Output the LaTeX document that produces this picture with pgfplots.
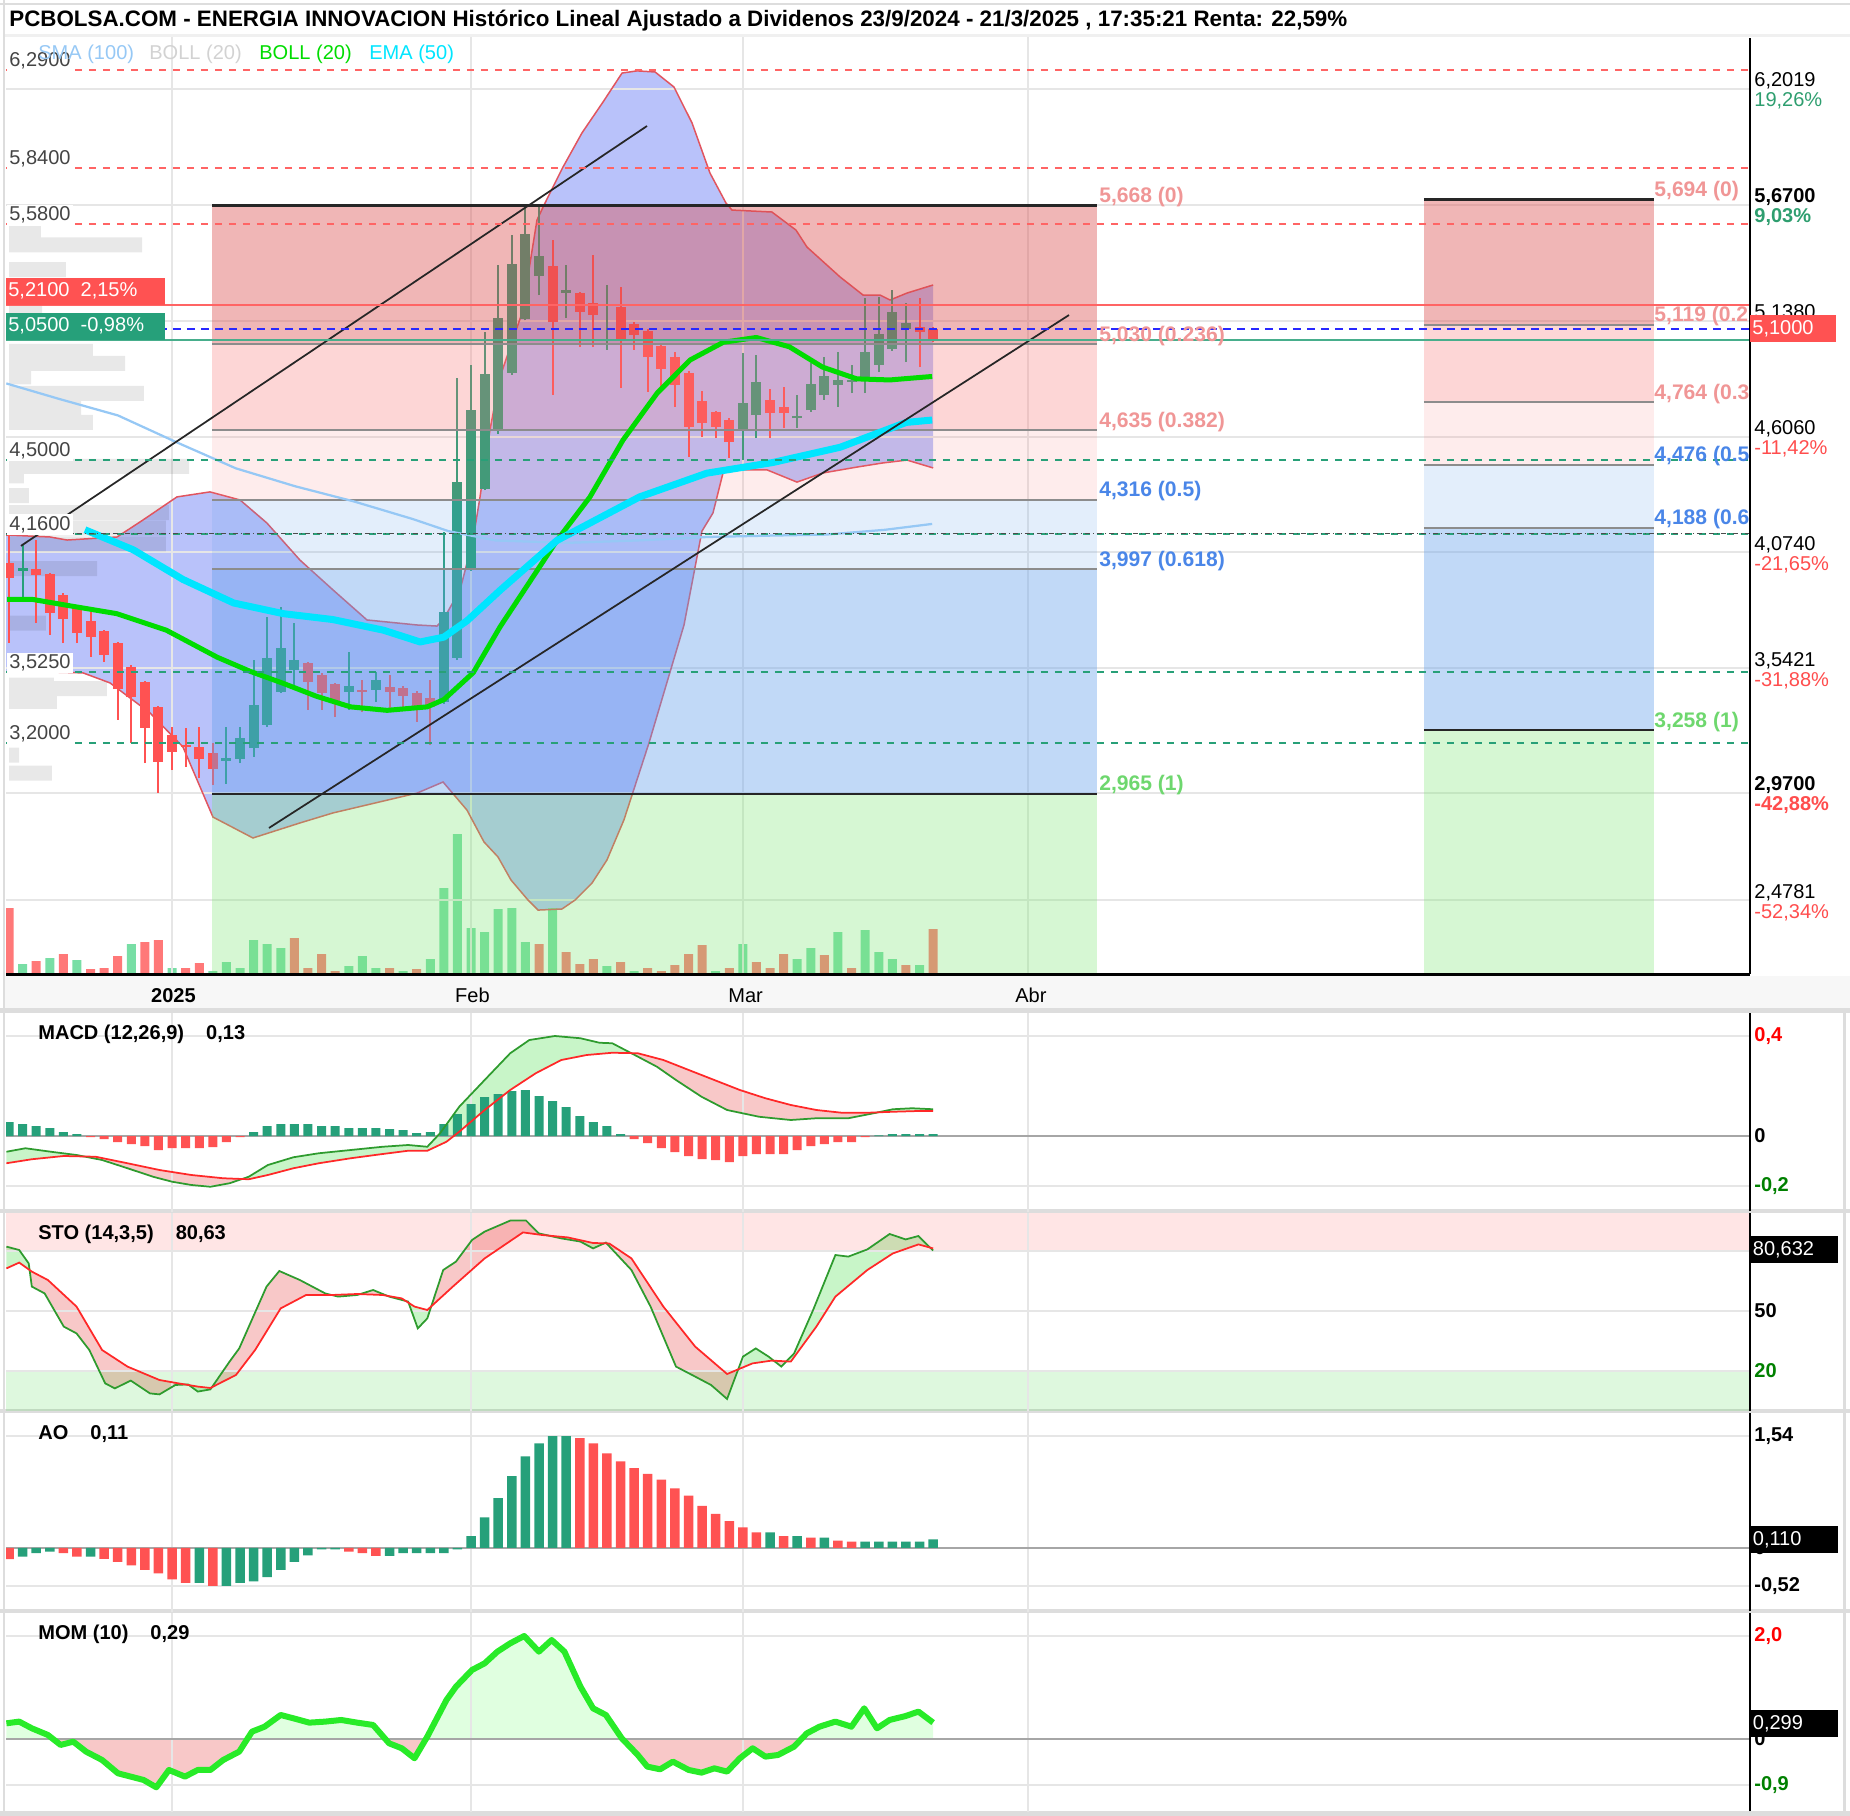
\documentclass[border=0pt]{standalone}
\usepackage{graphicx}
\usepackage{pgfplots}
\pgfplotsset{compat=1.18}
\usepgfplotslibrary{fillbetween}
\usepackage{pgfplotstable}
\usepackage{fontspec}
\setmainfont{Liberation Sans}
\newcommand\fs[1]{\fontsize{#1}{#1}\selectfont}

\definecolor{cg}{RGB}{38,160,122}
\definecolor{cr}{RGB}{255,82,82}
\definecolor{vg}{RGB}{120,222,165}
\definecolor{vr}{RGB}{255,120,120}
\definecolor{gridc}{RGB}{230,230,230}
\definecolor{bfill}{RGB}{100,120,245}
\definecolor{bline}{RGB}{225,85,95}
\definecolor{smac}{RGB}{150,200,245}
\definecolor{emac}{RGB}{0,229,255}
\definecolor{bmid}{RGB}{0,220,0}
\definecolor{fr1}{RGB}{220,80,80}
\definecolor{fr2}{RGB}{250,120,120}
\definecolor{fb}{RGB}{100,160,235}
\definecolor{fgr}{RGB}{120,230,110}
\definecolor{dred}{RGB}{255,100,100}
\definecolor{dgreen}{RGB}{40,160,120}
\definecolor{dblue}{RGB}{40,40,255}
\definecolor{pg}{RGB}{46,158,111}
\definecolor{pr}{RGB}{255,77,77}
\definecolor{labgray}{RGB}{68,68,68}
\definecolor{fpink}{RGB}{240,150,150}
\definecolor{fblue}{RGB}{74,134,232}
\definecolor{fgreen}{RGB}{110,215,110}
\definecolor{sep}{RGB}{221,221,221}
\definecolor{lg}{RGB}{46,155,46}
\definecolor{lr}{RGB}{255,40,40}
\definecolor{fillg}{RGB}{200,245,200}
\definecolor{fillr}{RGB}{248,200,200}
\definecolor{momc}{RGB}{40,235,40}
\definecolor{legray}{RGB}{210,210,210}
\definecolor{darkgreen}{RGB}{0,128,0}

% ---------------- data ----------------
\pgfplotstableread{
i lo hi wl wh
1 3.989 4.003 3.847 4.108
16 3.116 3.130 3.011 3.273
17 3.126 3.222 3.107 3.273
18 3.176 3.374 3.135 3.580
19 3.282 3.589 3.273 3.778
20 3.433 3.635 3.429 3.824
21 3.534 3.580 3.456 3.750
25 3.433 3.461 3.351 3.617
27 3.443 3.488 3.387 3.525
32 3.387 3.801 3.380 4.168
33 3.589 4.397 3.580 4.875
34 3.993 4.728 3.990 4.935
35 4.365 4.893 4.360 5.086
36 4.636 5.150 4.620 5.394
37 4.898 5.398 4.890 5.532
38 5.146 5.536 5.140 5.669
39 5.343 5.435 5.256 5.669
41 5.265 5.279 5.150 5.394
44 5.206 5.215 5.004 5.302
54 4.636 4.760 4.498 4.990
55 4.705 4.857 4.600 4.981
58 4.690 4.700 4.645 4.797
59 4.728 4.847 4.720 4.944
60 4.797 4.884 4.774 4.971
61 4.843 4.866 4.742 4.994
62 4.857 4.866 4.806 4.935
63 4.870 4.994 4.806 5.242
64 4.935 5.077 4.903 5.247
65 5.008 5.178 5.000 5.279
66 5.100 5.128 4.948 5.219
}\gc
\pgfplotstableread{
i lo hi wl wh
0 3.957 4.026 3.658 4.154
2 3.970 3.998 3.750 4.131
3 3.796 3.975 3.695 3.980
4 3.768 3.879 3.658 3.890
5 3.704 3.819 3.658 3.830
6 3.686 3.759 3.594 3.801
7 3.603 3.713 3.571 3.720
8 3.447 3.658 3.305 3.665
9 3.410 3.548 3.199 3.555
10 3.268 3.479 3.107 3.485
11 3.112 3.364 2.970 3.370
12 3.158 3.236 3.075 3.273
13 3.181 3.190 3.089 3.268
14 3.126 3.181 3.038 3.273
15 3.080 3.153 3.006 3.199
22 3.479 3.566 3.351 3.572
23 3.429 3.511 3.351 3.520
24 3.387 3.470 3.319 3.475
26 3.433 3.443 3.342 3.488
28 3.433 3.456 3.351 3.511
29 3.415 3.452 3.351 3.460
30 3.364 3.429 3.296 3.440
31 3.364 3.406 3.190 3.488
40 5.132 5.389 4.797 5.509
42 5.178 5.265 5.017 5.272
43 5.164 5.219 5.017 5.440
45 5.049 5.201 4.829 5.293
46 5.072 5.123 5.004 5.132
47 4.971 5.091 4.811 5.100
48 4.916 5.022 4.829 5.030
49 4.843 4.971 4.742 4.994
50 4.650 4.898 4.512 4.905
51 4.668 4.769 4.604 4.815
52 4.650 4.719 4.600 4.725
53 4.581 4.682 4.508 4.690
56 4.714 4.774 4.600 4.824
57 4.714 4.742 4.645 4.834
67 5.086 5.109 4.925 5.242
68 5.050 5.100 5.040 5.110
}\rc
\pgfplotstableread{
i v
1 10
3 16
5 14
9 30
12 6
15 3
16 12
17 6
18 34
19 30
20 26
25 8
26 18
27 6
29 3
31 15
32 86
33 140
34 46
35 42
36 65
37 66
38 32
40 66
44 8
46 3
52 3
54 30
58 15
59 26
61 42
63 44
64 22
65 15
67 9
}\volg
\pgfplotstableread{
i v
0 66
2 13
4 20
6 5
7 6
8 18
10 32
11 34
13 6
14 11
21 36
22 6
23 20
24 3
28 6
30 5
39 30
41 22
42 10
43 15
45 12
47 6
48 3
49 9
50 20
51 29
53 6
55 12
56 6
57 20
60 19
62 6
66 9
68 45
}\volr
\pgfplotstableread{
w p
2.35 5.538
9.79 5.486
4.19 5.373
2.43 5.178
6.18 4.997
8.54 4.942
1.62 4.880
9.93 4.804
5.30 4.735
6.18 4.671
13.25 4.469
1.10 4.425
1.47 4.335
11.77 4.257
11.55 4.186
11.55 4.113
6.48 4.000
2.72 3.750
3.31 3.465
7.21 3.449
3.53 3.390
0.74 3.144
3.16 3.061
}\profile
\pgfplotstableread{
i p
-0.22 4.154
3.02 4.145
4.27 4.131
7.95 4.145
9.86 4.223
12.36 4.329
14.79 4.352
17.0 4.315
18.98 4.209
21.41 4.039
23.84 3.902
26.34 3.764
30.02 3.741
31.49 3.736
31.94 3.764
33.19 3.902
34.14 4.131
34.66 4.329
35.39 4.636
36.13 4.880
37.75 5.173
38.85 5.600
39.44 5.678
40.77 5.844
42.16 6.000
43.71 6.142
45.11 6.275
46.21 6.285
47.54 6.280
48.93 6.211
50.26 6.046
51.58 5.816
52.76 5.678
53.2 5.646
56.14 5.637
57.91 5.554
58.72 5.476
61.15 5.339
62.84 5.256
64.09 5.256
64.83 5.233
66.08 5.265
68.0 5.302
}\bollup
\pgfplotstableread{
i p
-0.22 3.525
3.02 3.525
5.45 3.521
7.43 3.475
10.38 3.337
12.8 3.181
15.01 2.859
17.95 2.763
21.41 2.832
23.84 2.878
30.02 2.969
31.94 3.020
33.7 2.891
34.95 2.745
35.98 2.676
36.94 2.570
38.19 2.478
38.93 2.432
40.69 2.437
41.65 2.478
42.9 2.556
44.0 2.662
45.25 2.846
47.09 3.199
49.67 3.741
50.99 4.172
51.8 4.255
52.54 4.439
53.27 4.453
55.78 4.453
57.98 4.397
59.9 4.439
62.4 4.466
64.31 4.485
66.08 4.498
68.0 4.462
}\bolllo
\pgfplotstableread{
i p
-0.14 3.858
1.77 3.858
4.29 3.831
7.93 3.793
11.58 3.717
15.32 3.593
17.75 3.528
20.18 3.473
22.61 3.414
25.13 3.365
27.82 3.349
30.77 3.365
31.99 3.398
34.16 3.522
36.15 3.734
40.32 4.129
42.75 4.329
45.18 4.590
47.7 4.806
50.13 4.958
52.56 5.039
54.99 5.061
57.43 5.018
59.86 4.925
62.38 4.871
64.81 4.866
67.93 4.882
}\bmidt
\pgfplotstableread{
i p
5.59 4.178
9.15 4.086
12.8 3.950
16.53 3.842
20.18 3.793
23.82 3.766
27.56 3.717
30.25 3.663
31.99 3.685
33.72 3.761
36.15 3.901
40.32 4.129
46.4 4.329
51.35 4.438
56.21 4.487
61.16 4.557
66.02 4.671
67.93 4.682
}\ema
\pgfplotstableread{
i p
-0.2 4.850
3.68 4.779
8.02 4.703
12.36 4.579
16.70 4.460
21.05 4.378
25.39 4.308
29.73 4.227
32.33 4.172
35.81 4.129
41.02 4.118
46.23 4.129
51.44 4.145
55.78 4.151
60.12 4.156
64.46 4.178
67.93 4.205
}\sma
\pgfplotstableread{
i v
-0.19 -0.063
1.21 -0.049
3.09 -0.063
4.97 -0.076
6.85 -0.096
8.72 -0.129
10.6 -0.163
12.01 -0.183
13.42 -0.196
14.82 -0.203
16.23 -0.189
17.64 -0.163
19.05 -0.116
20.93 -0.085
22.8 -0.069
25.15 -0.056
27.5 -0.043
29.37 -0.036
30.78 -0.043
31.72 0.011
33.13 0.117
35.0 0.224
36.88 0.331
38.29 0.384
40.17 0.400
42.05 0.391
43.45 0.373
44.39 0.371
45.8 0.331
47.68 0.277
49.08 0.224
50.96 0.157
52.84 0.104
55.19 0.077
57.53 0.064
59.41 0.071
61.76 0.071
63.63 0.091
65.04 0.107
66.45 0.111
68.0 0.107
}\macd
\pgfplotstableread{
i v
-0.19 -0.109
1.68 -0.093
4.03 -0.080
6.38 -0.083
8.72 -0.109
11.07 -0.136
13.42 -0.156
15.76 -0.169
17.64 -0.173
19.05 -0.156
20.93 -0.129
22.8 -0.109
25.15 -0.089
27.5 -0.072
29.37 -0.059
30.78 -0.059
32.19 -0.023
33.13 0.017
35.0 0.104
36.88 0.184
38.76 0.251
40.64 0.304
42.51 0.324
44.39 0.333
46.27 0.331
48.15 0.304
50.02 0.264
51.9 0.224
53.78 0.184
55.66 0.151
57.53 0.124
59.41 0.104
61.29 0.093
63.16 0.093
65.04 0.097
66.92 0.100
68.0 0.100
}\signal
\pgfplotstableread{
i v
0 0.056
1 0.048
2 0.040
3 0.032
4 0.016
5 0.008
18 0.016
19 0.040
20 0.048
21 0.048
22 0.048
23 0.040
24 0.040
25 0.032
26 0.032
27 0.032
28 0.028
29 0.024
30 0.012
31 0.016
32 0.048
33 0.088
34 0.128
35 0.156
36 0.168
37 0.180
38 0.184
39 0.160
40 0.140
41 0.116
42 0.080
43 0.056
44 0.040
45 0.008
64 0.003
65 0.008
66 0.008
67 0.008
68 0.008
}\mhg
\pgfplotstableread{
i v
6 -0.004
7 -0.012
8 -0.024
9 -0.032
10 -0.040
11 -0.056
12 -0.048
13 -0.048
14 -0.048
15 -0.044
16 -0.024
17 -0.004
46 -0.012
47 -0.028
48 -0.048
49 -0.064
50 -0.080
51 -0.092
52 -0.096
53 -0.104
54 -0.080
55 -0.072
56 -0.072
57 -0.072
58 -0.056
59 -0.040
60 -0.032
61 -0.024
62 -0.024
63 -0.004
}\mhr
\pgfplotstableread{
i v
-0.19 82.2
0.75 80.5
1.45 73.8
1.68 62.2
2.62 58.8
4.03 42.2
4.97 38.8
5.91 30.5
7.08 13.8
7.79 11.3
8.96 15.2
10.37 8.8
11.07 8.3
12.24 13.0
13.18 13.3
13.89 9.7
14.82 10.8
16.23 24.7
16.94 31.3
18.95 62.2
19.89 70.0
21.4 65.5
23.27 58.8
24.21 57.2
25.62 58.0
26.79 60.5
27.97 57.2
29.37 54.7
30.08 41.3
30.78 46.3
31.95 70.5
32.89 74.7
34.07 85.5
35.0 89.7
36.88 95.2
38.05 95.2
38.99 88.8
40.64 86.3
42.05 84.7
42.98 81.3
43.92 84.2
45.8 70.5
47.21 52.2
49.08 22.2
50.49 17.2
51.66 13.0
52.84 6.0
54.01 27.2
54.95 31.3
55.89 27.2
56.83 22.2
57.77 28.8
59.17 50.5
60.81 78.0
61.76 77.2
63.16 80.8
64.8 88.5
65.98 85.8
66.92 87.5
68.0 80.2
}\stok
\pgfplotstableread{
i v
-0.19 71.3
0.75 74.2
1.68 69.7
2.86 65.5
4.97 52.2
6.85 30.5
8.72 22.2
11.07 15.5
12.48 13.8
13.89 12.2
14.82 11.5
16.7 18.0
18.11 30.5
19.99 51.3
21.86 58.0
23.74 58.0
25.62 58.5
27.5 58.0
28.9 56.3
29.84 52.2
30.78 50.5
32.66 62.2
35.0 76.3
37.82 89.3
39.23 88.0
41.11 86.8
42.98 84.0
44.16 83.8
45.8 76.3
48.15 52.2
50.49 32.2
52.84 18.5
54.71 23.8
56.12 25.2
57.53 24.7
59.41 42.2
60.81 57.2
63.16 70.5
65.04 78.8
66.92 83.3
68.0 81.3
}\stod
\pgfplotstableread{
i v
1 -0.120
2 -0.070
3 -0.050
6 -0.120
14 -0.480
16 -0.520
17 -0.480
18 -0.460
19 -0.400
20 -0.300
21 -0.190
22 -0.100
23 -0.020
24 -0.020
28 -0.110
29 -0.070
30 -0.070
31 -0.070
32 -0.070
33 -0.020
34 0.165
35 0.420
36 0.685
37 0.990
38 1.260
39 1.440
40 1.540
41 1.540
56 0.216
58 0.165
60 0.142
63 0.087
64 0.087
65 0.087
66 0.087
67 0.087
68 0.119
}\aog
\pgfplotstableread{
i v
0 -0.152
4 -0.070
5 -0.120
7 -0.150
8 -0.190
9 -0.240
10 -0.300
11 -0.350
12 -0.430
13 -0.480
15 -0.520
25 -0.050
26 -0.070
27 -0.110
42 1.510
43 1.440
44 1.300
45 1.190
46 1.100
47 1.020
48 0.940
49 0.820
50 0.720
51 0.580
52 0.470
53 0.370
54 0.285
55 0.216
57 0.165
59 0.142
61 0.101
62 0.087
}\aor
\pgfplotstableread{
i v
-0.19 0.305
0.75 0.338
1.68 0.208
2.86 0.079
3.8 -0.115
4.73 -0.051
5.67 -0.245
6.85 -0.407
8.02 -0.666
8.96 -0.730
9.9 -0.795
10.84 -0.938
11.77 -0.601
12.95 -0.730
13.89 -0.601
14.82 -0.601
15.76 -0.407
16.94 -0.245
17.88 0.143
18.81 0.240
19.99 0.467
20.93 0.402
22.1 0.318
23.27 0.338
24.45 0.370
25.62 0.318
26.79 0.273
27.97 -0.083
28.9 -0.180
29.84 -0.374
30.78 0.046
32.19 0.758
32.89 1.017
34.07 1.341
35.0 1.470
35.94 1.697
36.88 1.858
37.91 2.001
38.99 1.697
39.93 1.923
40.87 1.697
42.05 1.017
42.98 0.596
43.92 0.467
45.09 0.014
46.27 -0.310
46.97 -0.536
47.91 -0.588
48.85 -0.439
50.02 -0.601
50.96 -0.653
51.9 -0.569
52.84 -0.633
53.78 -0.374
54.72 -0.180
55.66 -0.342
56.59 -0.310
57.77 -0.148
58.71 0.111
59.64 0.240
60.81 0.338
61.99 0.240
62.93 0.596
63.87 0.208
64.8 0.370
65.98 0.447
66.92 0.532
68.0 0.318
}\mom

\pgfplotsset{
  panel/.style={anchor=north west, scale only axis, width=348.8mm,
    xmin=-0.2208, xmax=128.11, hide axis, clip mode=individual},
}
\tikzset{
 rnum/.style={anchor=base west, inner sep=0pt, font=\fs{11.4pt}, xshift=0.8mm, yshift=0.4mm},
 rpct/.style={anchor=base west, inner sep=0pt, font=\fs{11.4pt}, xshift=0.8mm, yshift=-3.6mm},
 llab/.style={anchor=base west, fill=white, inner sep=0.4mm, text=labgray, font=\fs{11.4pt}, xshift=0.2mm, yshift=0.7mm},
 fibl/.style={anchor=base west, inner sep=0pt, font=\fs{12pt}\bfseries, yshift=0.6mm},
 plab/.style={anchor=west, inner sep=0pt, font=\fs{11.4pt}\bfseries, xshift=0.8mm},
 pbox/.style={anchor=west, fill=black, text=white, inner xsep=0.5mm, inner ysep=0pt, minimum height=5.4mm, text width=16.6mm, align=left, font=\fs{11.4pt}},
 ptitle/.style={anchor=base west, inner sep=0pt, font=\fs{11.4pt}\bfseries, xshift=6.4mm, yshift=-5.2mm},
 leg/.style={anchor=base west, inner sep=0pt, font=\fs{11.4pt}, yshift=-4.4mm},
 datel/.style={anchor=base, inner sep=0pt, font=\fs{11.4pt}, yshift=-5.6mm},
}

\begin{document}
\begin{tikzpicture}
\path (0,0) rectangle (370mm,-363.2mm);
\begin{scope}[x=0.2mm,y=-0.2mm]
  \fill[sep] (0,3) rectangle (1850,5);
  \fill[sep] (3,0) rectangle (5,1816);
  \fill[black!6] (5,34) rectangle (1850,37);
  \fill[black!3] (5,976) rectangle (1850,1008);
  \fill[sep] (0,1008) rectangle (1850,1013);
  \fill[sep] (0,1209) rectangle (1850,1213);
  \fill[sep] (0,1409) rectangle (1850,1413);
  \fill[sep] (0,1609) rectangle (1850,1613);
  \fill[sep] (0,1811) rectangle (1850,1816);
  \fill[sep] (1843,1013) rectangle (1846,1816);
\end{scope}
\node[anchor=base west, inner sep=0pt] at (1.8mm,-5.4mm)
  {\resizebox{267.6mm}{!}{\fs{11.4pt}\bfseries PCBOLSA.COM - ENERGIA INNOVACION Histórico Lineal Ajustado a Dividenos 23/9/2024 - 21/3/2025 , 17:35:21 Renta: 22,59\%}};

% ---------- volume ----------
\begin{axis}[panel, at={(1.2mm,-7.6mm)}, height=187.2mm, ymin=0, ymax=936]
\addplot[ybar, bar width=1.8mm, bar shift=0pt, fill=vg, draw=none] table[x=i,y=v] \volg;
\addplot[ybar, bar width=1.8mm, bar shift=0pt, fill=vr, draw=none] table[x=i,y=v] \volr;
\end{axis}

% ---------- price ----------
\begin{axis}[panel, at={(1.2mm,-7.6mm)}, height=187.2mm, ymin=2.1385, ymax=6.436]
\pgfplotsinvokeforeach{6.2019,5.67,5.138,4.606,4.074,3.5421,2.97,2.4781}{
  \addplot[gridc, line width=0.4mm] coordinates {(-0.3,#1) (128.5,#1)};}
\pgfplotsinvokeforeach{12,34,54,75}{
  \addplot[gridc, line width=0.4mm] coordinates {(#1,2.1) (#1,6.45)};}
\addplot[xbar, bar width=3mm, bar shift=0pt, fill=black, fill opacity=0.09, draw=none] table[x=w,y=p] \profile;
\addplot[name path=bu, bline, line width=0.3mm] table[x=i,y=p] \bollup;
\addplot[name path=bl, bline, line width=0.3mm] table[x=i,y=p] \bolllo;
\addplot[fill=bfill, fill opacity=0.45] fill between[of=bu and bl];
% candles
\addplot[draw=none, error bars/.cd, y dir=plus, y explicit, error mark=none,
  error bar style={draw=cg, line width=0.4mm}] table[x=i, y=wl, y error expr=\thisrow{wh}-\thisrow{wl}] \gc;
\addplot[draw=none, error bars/.cd, y dir=plus, y explicit, error mark=none,
  error bar style={draw=cg, line width=2mm}] table[x=i, y=lo, y error expr=\thisrow{hi}-\thisrow{lo}] \gc;
\addplot[draw=none, error bars/.cd, y dir=plus, y explicit, error mark=none,
  error bar style={draw=cr, line width=0.4mm}] table[x=i, y=wl, y error expr=\thisrow{wh}-\thisrow{wl}] \rc;
\addplot[draw=none, error bars/.cd, y dir=plus, y explicit, error mark=none,
  error bar style={draw=cr, line width=2mm}] table[x=i, y=lo, y error expr=\thisrow{hi}-\thisrow{lo}] \rc;
% fibonacci left block
\addplot[draw=none, fill=fr1, fill opacity=0.42] coordinates {(14.94,5.668) (80.06,5.668) (80.06,5.030) (14.94,5.030)};
\addplot[draw=none, fill=fr2, fill opacity=0.30] coordinates {(14.94,5.030) (80.06,5.030) (80.06,4.635) (14.94,4.635)};
\addplot[draw=none, fill=fr2, fill opacity=0.14] coordinates {(14.94,4.635) (80.06,4.635) (80.06,4.316) (14.94,4.316)};
\addplot[draw=none, fill=fb, fill opacity=0.18] coordinates {(14.94,4.316) (80.06,4.316) (80.06,3.997) (14.94,3.997)};
\addplot[draw=none, fill=fb, fill opacity=0.40] coordinates {(14.94,3.997) (80.06,3.997) (80.06,2.965) (14.94,2.965)};
\addplot[draw=none, fill=fgr, fill opacity=0.30] coordinates {(14.94,2.965) (80.06,2.965) (80.06,2.1) (14.94,2.1)};
% fibonacci right block
\addplot[draw=none, fill=fr1, fill opacity=0.42] coordinates {(104.12,5.694) (121.05,5.694) (121.05,5.119) (104.12,5.119)};
\addplot[draw=none, fill=fr2, fill opacity=0.30] coordinates {(104.12,5.119) (121.05,5.119) (121.05,4.764) (104.12,4.764)};
\addplot[draw=none, fill=fr2, fill opacity=0.14] coordinates {(104.12,4.764) (121.05,4.764) (121.05,4.476) (104.12,4.476)};
\addplot[draw=none, fill=fb, fill opacity=0.18] coordinates {(104.12,4.476) (121.05,4.476) (121.05,4.188) (104.12,4.188)};
\addplot[draw=none, fill=fb, fill opacity=0.40] coordinates {(104.12,4.188) (121.05,4.188) (121.05,3.258) (104.12,3.258)};
\addplot[draw=none, fill=fgr, fill opacity=0.30] coordinates {(104.12,3.258) (121.05,3.258) (121.05,2.1) (104.12,2.1)};
\pgfplotsinvokeforeach{5.030,4.635,4.316,3.997}{
  \addplot[black!45, line width=0.4mm] coordinates {(14.94,#1) (80.06,#1)};}
\pgfplotsinvokeforeach{5.668,2.965}{
  \addplot[black!85, line width=0.5mm] coordinates {(14.94,#1) (80.06,#1)};}
\pgfplotsinvokeforeach{5.119,4.764,4.476,4.188}{
  \addplot[black!45, line width=0.4mm] coordinates {(104.12,#1) (121.05,#1)};}
\pgfplotsinvokeforeach{5.694,3.258}{
  \addplot[black!85, line width=0.5mm] coordinates {(104.12,#1) (121.05,#1)};}
% moving averages
\addplot[smac, line width=0.45mm] table[x=i,y=p] \sma;
\addplot[bmid, line width=1mm, line join=round] table[x=i,y=p] \bmidt;
\addplot[emac, line width=1.4mm, line join=round] table[x=i,y=p] \ema;
% trend lines
\addplot[black!85, line width=0.35mm] coordinates {(0.88,4.104) (46.95,6.032)};
\addplot[black!85, line width=0.35mm] coordinates {(19.13,2.809) (78.0,5.164)};
% support / resistance
\pgfplotsinvokeforeach{6.29,5.84,5.58}{
  \addplot[dred, line width=0.4mm, dash pattern=on 1.4mm off 1.4mm] coordinates {(-0.3,#1) (128.5,#1)};}
\pgfplotsinvokeforeach{4.5,4.16,3.525,3.2}{
  \addplot[dgreen, line width=0.4mm, dash pattern=on 1.4mm off 1.4mm] coordinates {(-0.3,#1) (128.5,#1)};}
\addplot[black!70, line width=0.3mm, dash pattern=on 1mm off 0.6mm on 0.2mm off 0.6mm] coordinates {(-0.3,4.16) (128.5,4.16)};
\addplot[dblue, line width=0.4mm, dash pattern=on 1.6mm off 1.2mm] coordinates {(-0.3,5.10) (128.5,5.10)};
\addplot[dred, line width=0.4mm] coordinates {(-0.3,5.21) (128.5,5.21)};
\addplot[dgreen!85, line width=0.4mm] coordinates {(-0.3,5.05) (128.5,5.05)};
% borders
\draw[black, line width=0.45mm] (rel axis cs:1,0) -- (rel axis cs:1,1);
\draw[black, line width=0.6mm] (rel axis cs:0,0) -- (rel axis cs:1,0);
% left labels
\node[llab] at (axis cs:-0.2208,6.29) {6,2900};
\node[llab] at (axis cs:-0.2208,5.84) {5,8400};
\node[llab] at (axis cs:-0.2208,5.58) {5,5800};
\node[llab] at (axis cs:-0.2208,4.50) {4,5000};
\node[llab] at (axis cs:-0.2208,4.16) {4,1600};
\node[llab] at (axis cs:-0.2208,3.525) {3,5250};
\node[llab] at (axis cs:-0.2208,3.20) {3,2000};
\node[anchor=south west, fill=cr, text=white, inner xsep=0.4mm, inner ysep=0pt, minimum height=5.4mm, text width=31mm, align=left, font=\fs{11.4pt}] at (axis cs:-0.2208,5.21) {5,2100\hspace{2.2mm}2,15\%};
\node[anchor=south west, fill=cg, text=white, inner xsep=0.4mm, inner ysep=0pt, minimum height=5.4mm, text width=31mm, align=left, font=\fs{11.4pt}] at (axis cs:-0.2208,5.05) {5,0500\hspace{2.2mm}-0,98\%};
% legend
\node[leg, text=smac, xshift=6.4mm] at (rel axis cs:0,1) {SMA (100)};
\node[leg, text=legray, xshift=28.6mm] at (rel axis cs:0,1) {BOLL (20)};
\node[leg, text=bmid, xshift=50.6mm] at (rel axis cs:0,1) {BOLL (20)};
\node[leg, text=emac, xshift=72.6mm] at (rel axis cs:0,1) {EMA (50)};
% fib labels
\node[fibl, text=fpink, xshift=0.4mm] at (axis cs:80.06,5.668) {5,668 (0)};
\node[fibl, text=fpink, xshift=0.4mm] at (axis cs:80.06,5.030) {5,030 (0.236)};
\node[fibl, text=fpink, xshift=0.4mm] at (axis cs:80.06,4.635) {4,635 (0.382)};
\node[fibl, text=fblue, xshift=0.4mm] at (axis cs:80.06,4.316) {4,316 (0.5)};
\node[fibl, text=fblue, xshift=0.4mm] at (axis cs:80.06,3.997) {3,997 (0.618)};
\node[fibl, text=fgreen, xshift=0.4mm] at (axis cs:80.06,2.965) {2,965 (1)};
\node[fibl, text=fpink] at (axis cs:121.05,5.694) {5,694 (0)};
\node[fibl, text=fpink] at (axis cs:121.05,5.119) {5,119 (0.2};
\node[fibl, text=fpink] at (axis cs:121.05,4.764) {4,764 (0.3};
\node[fibl, text=fblue] at (axis cs:121.05,4.476) {4,476 (0.5};
\node[fibl, text=fblue] at (axis cs:121.05,4.188) {4,188 (0.6};
\node[fibl, text=fgreen] at (axis cs:121.05,3.258) {3,258 (1)};
% right axis labels
\node[rnum] at (axis cs:128.11,6.2019) {6,2019};
\node[rpct, text=pg] at (axis cs:128.11,6.2019) {19,26\%};
\node[rnum, font=\fs{11.4pt}\bfseries] at (axis cs:128.11,5.67) {5,6700};
\node[rpct, text=pg, font=\fs{11.4pt}\bfseries] at (axis cs:128.11,5.67) {9,03\%};
\node[rnum] at (axis cs:128.11,5.138) {5,1380};
\node[rnum] at (axis cs:128.11,4.606) {4,6060};
\node[rpct, text=pr] at (axis cs:128.11,4.606) {-11,42\%};
\node[rnum] at (axis cs:128.11,4.074) {4,0740};
\node[rpct, text=pr] at (axis cs:128.11,4.074) {-21,65\%};
\node[rnum] at (axis cs:128.11,3.5421) {3,5421};
\node[rpct, text=pr] at (axis cs:128.11,3.5421) {-31,88\%};
\node[rnum, font=\fs{11.4pt}\bfseries] at (axis cs:128.11,2.97) {2,9700};
\node[rpct, text=pr, font=\fs{11.4pt}\bfseries] at (axis cs:128.11,2.97) {-42,88\%};
\node[rnum] at (axis cs:128.11,2.4781) {2,4781};
\node[rpct, text=pr] at (axis cs:128.11,2.4781) {-52,34\%};
\node[anchor=west, fill=cr, text=white, inner xsep=0.4mm, inner ysep=0pt, minimum height=5.4mm, text width=16.4mm, align=left, font=\fs{11.4pt}] at (axis cs:128.11,5.10) {5,1000};
% dates
\node[datel, font=\fs{11.4pt}\bfseries] at (axis cs:12.1,2.1385) {2025};
\node[datel] at (axis cs:34.1,2.1385) {Feb};
\node[datel] at (axis cs:54.2,2.1385) {Mar};
\node[datel] at (axis cs:75.2,2.1385) {Abr};
\end{axis}

% ---------- MACD ----------
\begin{axis}[panel, at={(1.2mm,-202.6mm)}, height=39.6mm, ymin=-0.3, ymax=0.492]
\pgfplotsinvokeforeach{12,34,54,75}{\addplot[gridc, line width=0.4mm] coordinates {(#1,-0.31) (#1,0.5)};}
\pgfplotsinvokeforeach{0.4,-0.2}{\addplot[gridc, line width=0.4mm] coordinates {(-0.3,#1) (128.5,#1)};}
\addplot[black!35, line width=0.4mm] coordinates {(-0.3,0) (128.5,0)};
\addplot[name path=mc, draw=none] table[x=i,y=v] \macd;
\addplot[name path=sg, draw=none] table[x=i,y=v] \signal;
\addplot fill between[of=mc and sg, split, every even segment/.style={fill=fillg}, every odd segment/.style={fill=fillr}];
\addplot[ybar, bar width=1.8mm, bar shift=0pt, fill=cg, draw=none] table[x=i,y=v] \mhg;
\addplot[ybar, bar width=1.8mm, bar shift=0pt, fill=cr, draw=none] table[x=i,y=v] \mhr;
\addplot[lg, line width=0.35mm] table[x=i,y=v] \macd;
\addplot[lr, line width=0.35mm] table[x=i,y=v] \signal;
\draw[black, line width=0.45mm] (rel axis cs:1,0) -- (rel axis cs:1,1);
\node[ptitle] at (rel axis cs:0,1) {MACD (12,26,9)\hspace{4.4mm}0,13};
\node[plab, text=red] at (axis cs:128.11,0.4) {0,4};
\node[plab] at (axis cs:128.11,0) {0};
\node[plab, text=darkgreen] at (axis cs:128.11,-0.2) {-0,2};
\end{axis}

% ---------- STO ----------
\begin{axis}[panel, at={(1.2mm,-242.6mm)}, height=39.6mm, ymin=0, ymax=99]
\addplot[draw=none, fill=red, fill opacity=0.1] coordinates {(-0.3,80) (128.5,80) (128.5,99.5) (-0.3,99.5)};
\addplot[draw=none, fill=green!80!black, fill opacity=0.13] coordinates {(-0.3,0) (128.5,0) (128.5,20) (-0.3,20)};
\pgfplotsinvokeforeach{12,34,54,75}{\addplot[gridc, line width=0.4mm] coordinates {(#1,-0.5) (#1,99.5)};}
\pgfplotsinvokeforeach{80,50,20}{\addplot[gridc, line width=0.4mm] coordinates {(-0.3,#1) (128.5,#1)};}
\addplot[name path=sk, draw=none] table[x=i,y=v] \stok;
\addplot[name path=sd, draw=none] table[x=i,y=v] \stod;
\addplot fill between[of=sk and sd, split, every even segment/.style={fill=fillg}, every odd segment/.style={fill=fillr}];
\addplot[lg, line width=0.35mm] table[x=i,y=v] \stok;
\addplot[lr, line width=0.35mm] table[x=i,y=v] \stod;
\draw[black, line width=0.45mm] (rel axis cs:1,0) -- (rel axis cs:1,1);
\node[ptitle] at (rel axis cs:0,1) {STO (14,3,5)\hspace{4.4mm}80,63};
\node[pbox] at (axis cs:128.11,80.632) {80,632};
\node[plab] at (axis cs:128.11,50) {50};
\node[plab, text=darkgreen] at (axis cs:128.11,20) {20};
\end{axis}

% ---------- AO ----------
\begin{axis}[panel, at={(1.2mm,-282.6mm)}, height=39.6mm, ymin=-0.867, ymax=1.857]
\pgfplotsinvokeforeach{12,34,54,75}{\addplot[gridc, line width=0.4mm] coordinates {(#1,-0.88) (#1,1.87)};}
\pgfplotsinvokeforeach{1.54,-0.52}{\addplot[gridc, line width=0.4mm] coordinates {(-0.3,#1) (128.5,#1)};}
\addplot[black!35, line width=0.4mm] coordinates {(-0.3,0) (128.5,0)};
\addplot[ybar, bar width=1.9mm, bar shift=0pt, fill=cg, draw=none] table[x=i,y=v] \aog;
\addplot[ybar, bar width=1.9mm, bar shift=0pt, fill=cr, draw=none] table[x=i,y=v] \aor;
\draw[black, line width=0.45mm] (rel axis cs:1,0) -- (rel axis cs:1,1);
\node[ptitle] at (rel axis cs:0,1) {AO\hspace{4.4mm}0,11};
\node[plab] at (axis cs:128.11,1.54) {1,54};
\node[plab] at (axis cs:128.11,0) {0};
\node[pbox] at (axis cs:128.11,0.11) {0,110};
\node[plab] at (axis cs:128.11,-0.52) {-0,52};
\end{axis}

% ---------- MOM ----------
\begin{axis}[panel, at={(1.2mm,-322.6mm)}, height=39.6mm, ymin=-1.398, ymax=2.447]
\pgfplotsinvokeforeach{12,34,54,75}{\addplot[gridc, line width=0.4mm] coordinates {(#1,-1.41) (#1,2.46)};}
\pgfplotsinvokeforeach{2.0,-0.9}{\addplot[gridc, line width=0.4mm] coordinates {(-0.3,#1) (128.5,#1)};}
\addplot[name path=z0, draw=none] coordinates {(-0.19,0) (68.0,0)};
\addplot[name path=mm, draw=none] table[x=i,y=v] \mom;
\addplot fill between[of=mm and z0, split, every even segment/.style={fill=green!20!white, fill opacity=0.6}, every odd segment/.style={fill=fillr}];
\addplot[black!35, line width=0.4mm] coordinates {(-0.3,0) (128.5,0)};
\addplot[momc, line width=1.2mm, line join=round] table[x=i,y=v] \mom;
\draw[black, line width=0.45mm] (rel axis cs:1,0) -- (rel axis cs:1,1);
\node[ptitle] at (rel axis cs:0,1) {MOM (10)\hspace{4.4mm}0,29};
\node[plab, text=red] at (axis cs:128.11,2.0) {2,0};
\node[plab] at (axis cs:128.11,0) {0};
\node[pbox] at (axis cs:128.11,0.299) {0,299};
\node[plab, text=darkgreen] at (axis cs:128.11,-0.9) {-0,9};
\end{axis}
\end{tikzpicture}
\end{document}
